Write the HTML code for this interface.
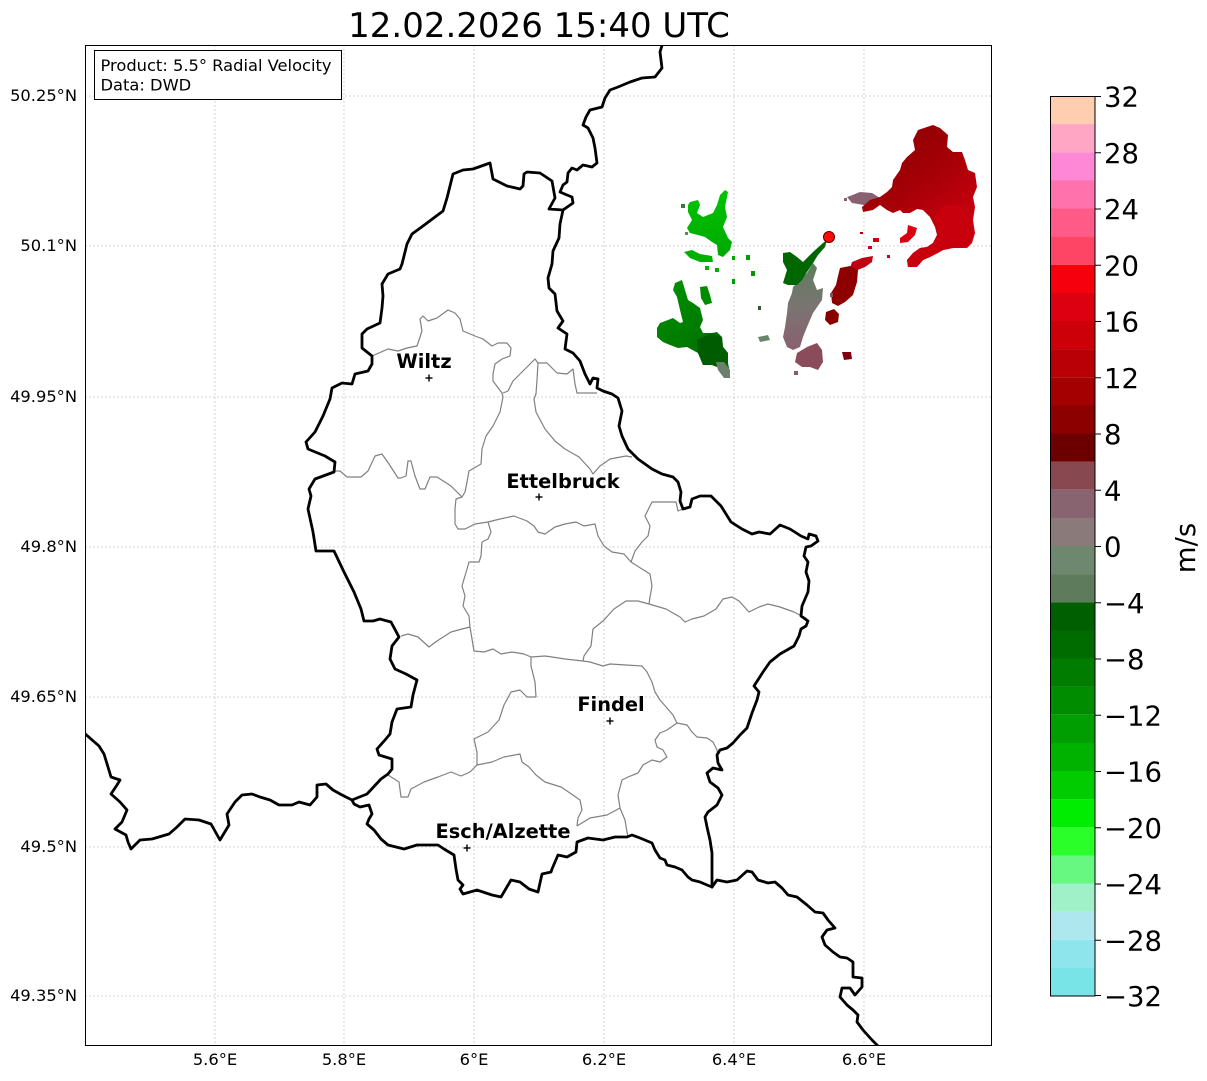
<!DOCTYPE html>
<html><head><meta charset="utf-8"><style>
html,body{margin:0;padding:0;background:#fff;}
svg{display:block;font-family:"DejaVu Sans","Liberation Sans",sans-serif;}
</style></head><body>
<svg width="1207" height="1081" viewBox="0 0 1207 1081" xmlns="http://www.w3.org/2000/svg">
<defs>
<clipPath id="ax"><rect x="85" y="45" width="907" height="1001"/></clipPath>
<linearGradient id="gRed" x1="0" y1="0" x2="0.6" y2="1">
<stop offset="0" stop-color="#880000"/><stop offset="0.45" stop-color="#a00006"/><stop offset="1" stop-color="#d00010"/></linearGradient>
<linearGradient id="gGreenUp" x1="0" y1="0" x2="0" y2="1">
<stop offset="0" stop-color="#00c400"/><stop offset="1" stop-color="#00a800"/></linearGradient>
<linearGradient id="gGreenLow" x1="0" y1="0" x2="0.5" y2="1">
<stop offset="0" stop-color="#009400"/><stop offset="1" stop-color="#006c00"/></linearGradient>
<linearGradient id="gStreak" x1="0" y1="0" x2="0" y2="1">
<stop offset="0" stop-color="#5e7e5c"/><stop offset="0.5" stop-color="#7a7472"/><stop offset="1" stop-color="#8a6070"/></linearGradient>
</defs>
<rect width="1207" height="1081" fill="#fff"/>

<!-- gridlines -->
<g stroke="#c8c8c8" stroke-width="0.8" stroke-dasharray="2,2" fill="none">
<line x1="215" y1="45" x2="215" y2="1046"/><line x1="344" y1="45" x2="344" y2="1046"/>
<line x1="474" y1="45" x2="474" y2="1046"/><line x1="604" y1="45" x2="604" y2="1046"/>
<line x1="734" y1="45" x2="734" y2="1046"/><line x1="864" y1="45" x2="864" y2="1046"/>
<line x1="85" y1="96" x2="992" y2="96"/><line x1="85" y1="246" x2="992" y2="246"/>
<line x1="85" y1="397" x2="992" y2="397"/><line x1="85" y1="547" x2="992" y2="547"/>
<line x1="85" y1="697" x2="992" y2="697"/><line x1="85" y1="847" x2="992" y2="847"/>
<line x1="85" y1="996" x2="992" y2="996"/>
</g>

<g clip-path="url(#ax)">
<!-- radar data -->
<polygon fill="#886070" points="847,197 850,196 860,192 872,193 880,198 876,204 864,205 852,203"/>
<polygon fill="url(#gRed)" points="918,130 933,125 940,128 948,135 947,147 953,152 962,152 965,160 968,170 975,173 977,187 973,197 975,207 973,220 975,233 972,243 967,248 953,248 943,250 938,253 930,257 923,260 917,267 908,267 907,260 913,253 920,248 927,247 933,243 937,235 935,227 930,217 923,210 917,209 910,213 903,213 900,210 893,213 887,210 880,205 873,210 863,212 862,207 870,200 880,197 887,192 892,187 893,180 900,170 902,163 907,157 915,150 913,140"/>
<polygon fill="#c8000e" points="937,227 935,215 945,205 960,205 972,215 973,235 968,247 953,248 943,250 930,257 923,260 917,267 908,267 907,260 913,253 920,248 927,247 933,243 937,235"/>
<polygon fill="#dd0010" points="908,225 917,228 915,235 908,242 900,243 900,238 907,233"/>
<rect x="873" y="238" width="6" height="4" fill="#cc0010"/>
<rect x="868" y="246" width="4" height="3" fill="#cc0010"/>
<rect x="887" y="255" width="3" height="3" fill="#cc0010"/>
<rect x="860" y="232" width="3" height="2" fill="#aa0010"/>
<rect x="844" y="198" width="3" height="3" fill="#886070"/>
<polygon fill="#c00010" points="852,262 862,258 873,256 872,262 865,267 855,271 850,268"/>
<polygon fill="#8e0000" points="840,268 850,266 858,270 857,282 853,295 845,302 838,306 832,303 831,293 836,285 838,276"/>
<polygon fill="#880000" points="826,312 834,309 839,314 838,322 830,325 825,320"/>
<polygon fill="#800010" points="842,352 851,352 852,359 844,360"/>
<rect x="834" y="316" width="3" height="3" fill="#900000"/>
<rect x="830" y="293" width="3" height="4" fill="#8a5060"/>

<polygon fill="url(#gGreenUp)" points="690,202 698,200 700,205 697,213 703,217 713,213 717,205 720,195 725,190 728,192 725,207 727,217 723,227 728,238 732,242 730,250 723,257 718,255 717,245 712,242 705,237 698,235 690,233 687,228 692,220 688,212 688,205"/>
<polygon fill="#00b000" points="684,252 692,250 700,254 712,256 713,262 700,262 690,258"/>
<rect x="705" y="266" width="4" height="4" fill="#00b400"/>
<rect x="715" y="268" width="4" height="4" fill="#00b000"/>
<rect x="732" y="256" width="3" height="4" fill="#00a800"/>
<rect x="746" y="255" width="4" height="5" fill="#00a000"/>
<rect x="751" y="271" width="4" height="5" fill="#009800"/>
<rect x="732" y="279" width="3" height="5" fill="#009c00"/>
<rect x="681" y="204" width="4" height="4" fill="#3a7a3a"/>
<rect x="685" y="232" width="3" height="3" fill="#5a8a5a"/>
<polygon fill="url(#gGreenLow)" points="675,283 682,280 685,290 688,300 693,303 700,308 703,320 700,327 703,333 712,333 717,332 722,337 723,347 728,353 728,363 730,373 727,378 722,373 717,367 712,365 703,365 698,353 687,347 678,348 670,345 663,342 657,337 657,328 660,323 668,320 673,318 680,323 683,322 680,310 677,297 673,290"/>
<polygon fill="#008c00" points="700,287 707,286 710,295 712,303 705,305 701,298"/>
<polygon fill="#005c00" points="697,340 712,333 722,337 723,347 728,353 728,363 720,368 712,365 703,365 698,353"/>
<polygon fill="#6a806a" points="716,362 724,362 730,370 730,378 724,378 718,370"/>

<polygon fill="url(#gStreak)" points="797,283 807,273 813,263 817,268 813,280 817,290 823,288 822,300 813,313 807,327 803,337 800,347 793,350 787,347 783,337 785,327 787,313 788,303 792,293 793,287"/>
<polygon fill="#006600" points="783,253 790,252 797,257 803,262 813,252 823,243 827,240 825,247 818,255 813,263 807,272 802,280 797,285 788,285 783,283 787,270 783,262"/>
<polygon fill="#8a4c5a" points="807,347 817,343 822,350 823,362 818,370 810,367 802,367 795,362 797,353"/>
<rect x="794" y="371" width="4" height="4" fill="#8a5a66"/>
<polygon fill="#6a846a" points="758,337 768,335 770,340 760,342"/>
<rect x="758" y="306" width="3" height="4" fill="#335533"/>

<!-- canton borders -->
<g fill="none" stroke="#808080" stroke-width="1.2" stroke-linejoin="round">
<polyline points="372,356 388,349 398,351 407,348 417,346 422,331 420,319 423,316 428,321 437,318 448,310 455,313 460,319 463,331 475,336 483,339 492,346 498,343 507,343 511,348 510,356 502,359 495,364 493,374 493,381 499,389 502,393 503,397 501,407 500,412 493,426 486,436 482,449 481,464 469,471 467,482 465,492 462,497 456,499 455,509 455,524 458,529 465,529 475,524 488,522 491,532 488,539 482,542 481,556 479,562 469,562 467,569 462,586 465,596 463,606 469,616 470,627 472,639 474,651 484,652 493,649 501,654 512,652 524,654 531,657 545,656 552,657 565,659 583,661 584,656 591,646 593,629 603,621 614,609 626,601 638,601 649,604 666,609 680,617 685,622 692,619 704,616 716,609 723,599 732,597 739,601 749,612 759,607 768,604 780,607 794,612 806,618"/>
<polyline points="334,471 340,471 347,477 361,477 368,471 375,456 382,454 389,464 398,478 401,478 406,476 408,461 411,461 415,476 420,489 425,489 430,477 437,477 451,486 462,497"/>
<polyline points="488,522 500,519 514,516 527,521 534,526 538,532 545,534 555,527 565,524 576,522 584,526 595,524 598,536 604,546 612,552 624,554 631,562 642,569 650,574 652,586 650,597 649,604"/>
<polyline points="631,562 635,551 642,542 648,536 650,526 645,516 652,502 669,502 676,502 678,511 683,509"/>
<polyline points="503,393 508,391 513,381 530,364 535,359 538,363 537,380 536,394 534,399 536,412 545,429 555,441 565,449 579,457 590,469 593,474 600,466 610,459 626,456 632,457"/>
<polyline points="538,363 547,363 557,373 567,374 573,369 575,384 577,393 597,393"/>
<polyline points="401,636 408,634 418,637 429,647 437,641 451,632 462,629 470,627"/>
<polyline points="531,657 531,666 535,682 536,697 527,697 520,690 511,692 504,705 499,720 488,732 474,739 477,752 477,765"/>
<polyline points="388,775 399,782 401,797 408,797 411,789 424,782 438,777 451,772 461,776 470,772 477,765 492,762 504,757 520,754 522,762 529,767 536,775 545,782 561,787 570,793 580,800 582,810 578,818 577,826"/>
<polyline points="577,826 590,818 607,815 620,808 625,820 627,832 628,837"/>
<polyline points="620,808 618,795 622,780 628,777 638,773 643,765 652,760 660,762 667,757 663,750 657,747 655,740 660,733 667,730 677,723 687,725 692,732 697,737 707,738 713,742 717,750 718,757"/>
<polyline points="583,661 590,662 603,666 610,664 642,666 647,672 652,682 655,692 660,700 667,708 673,715 677,723"/>
</g>

<!-- country borders -->
<g fill="none" stroke="#000" stroke-width="2.8" stroke-linejoin="round" stroke-linecap="round">
<polyline points="83,732 99,746 104,754 108,767 111,777 120,780 117,785 111,794 120,802 127,810 122,822 115,829 126,835 128,842 131,849 140,840 152,839 169,834 177,827 185,819 199,820 211,824 220,840 229,825 227,814 235,802 242,795 252,794 260,797 270,800 279,805 292,805 299,802 310,805 317,797 317,785 326,784 333,790 342,795 352,800"/>
<polyline points="352,800 354,804 360,807 369,805 372,814 369,819 367,824 374,830 381,839 388,845 404,849 417,845 427,845 438,845 444,849 454,855 456,869 458,880 463,885 460,889 463,894 477,890 492,895 501,897 511,880 520,882 529,889 538,892 542,874 551,872 552,869 558,855 567,857 576,852 577,842 588,838 603,840 615,837 627,837 632,835 640,838 652,843 655,850 660,858 665,860 667,865 675,867 682,870 688,877 692,880 700,882 707,885 712,887"/>
<polyline points="712,887 717,880 727,882 737,880 747,871 752,872 758,880 768,883 775,882 782,888 788,895 797,897 807,905 815,912 823,913 828,920 835,928 827,930 822,937 825,945 833,952 840,957 847,958 853,962 853,977 862,978 862,987 855,995 850,988 842,988 840,997 847,1005 853,1010 858,1015 857,1022 863,1030 872,1040 882,1050"/>
<polyline points="712,887 712,877 712,853 710,840 707,827 705,817 708,812 717,805 722,795 718,788 710,782 707,773 713,768 722,770 718,763 717,755 720,750 727,748 733,743 740,735 747,728 752,713 757,700 759,692 754,686 763,672 770,662 780,654 794,646 799,636 801,629 806,626 808,621 801,616 802,606 808,592 809,581 806,572 808,562 804,556 806,547 811,546 818,541 816,536 809,534 808,539 801,536 790,529 780,525 770,534 759,532 752,534 742,529 731,522 721,506 711,496 700,496 692,499 690,507 683,509 680,501 681,492 678,482 673,477 662,474 652,469 638,459 628,449 622,436 619,426 622,411 618,398 612,394 603,391 597,388 598,379 593,378 590,384 585,374 580,361 573,353 565,349 567,334 558,328 563,321 557,311 555,294 549,288 548,278 552,264 553,251 559,238 560,224 563,210"/>
<polyline points="563,210 573,203 572,197 567,195 560,192 563,185 567,182 568,173 572,168 577,170 583,165 592,167 597,163 595,148 593,138 588,128 583,125 586,117 590,110 602,107 605,98 610,90 618,87 630,82 642,78 655,77 662,68 660,52 663,42"/>
<polyline points="563,210 549,209 555,198 552,181 540,173 527,172 524,174 523,186 520,189 507,186 493,179 490,163 473,169 463,170 453,174 447,198 443,211 423,226 412,234 407,244 402,264 400,269 388,274 382,284 383,296 382,308 380,323 367,329 362,334 362,348 372,356 372,364 368,371 355,374 352,384 342,383 332,388 330,399 323,416 315,432 306,442 308,449 325,456 335,462 334,472 315,479 309,489 311,496 308,509 313,532 316,551 334,551 344,572 354,592 361,609 364,621 373,621 380,619 391,622 399,637 392,646 390,659 395,669 406,674 417,680 413,695 411,707 397,709 392,722 390,734 385,740 377,749 379,755 392,759 392,769 388,774 381,779 367,794 352,800"/>
</g>

<!-- radar site -->
<circle cx="829" cy="237" r="5.5" fill="#ff0a0a" stroke="#550000" stroke-width="1"/>

<!-- cities -->
<g stroke="#000" stroke-width="1.4">
<line x1="425.5" y1="378" x2="432.5" y2="378"/><line x1="429" y1="374.5" x2="429" y2="381.5"/>
<line x1="535.5" y1="497" x2="542.5" y2="497"/><line x1="539" y1="493.5" x2="539" y2="500.5"/>
<line x1="606.5" y1="721" x2="613.5" y2="721"/><line x1="610" y1="717.5" x2="610" y2="724.5"/>
<line x1="463.5" y1="848" x2="470.5" y2="848"/><line x1="467" y1="844.5" x2="467" y2="851.5"/>
</g>
<g font-size="19.4" font-weight="bold" text-anchor="middle" fill="#000">
<text x="424" y="368">Wiltz</text>
<text x="563" y="488">Ettelbruck</text>
<text x="611" y="711">Findel</text>
<text x="503" y="838">Esch/Alzette</text>
</g>
</g>

<!-- info box -->
<rect x="94.5" y="50.5" width="247" height="49" fill="#fff" stroke="#000" stroke-width="1"/>
<g font-size="16.3" fill="#000">
<text x="100.5" y="71">Product: 5.5° Radial Velocity</text>
<text x="100.5" y="90.5">Data: DWD</text>
</g>

<!-- axes frame -->
<rect x="85.5" y="45.5" width="906" height="1000" fill="none" stroke="#000" stroke-width="1"/>

<!-- tick labels -->
<g font-size="16.3" fill="#000" text-anchor="end">
<text x="77" y="101">50.25°N</text>
<text x="77" y="251">50.1°N</text>
<text x="77" y="402">49.95°N</text>
<text x="77" y="552">49.8°N</text>
<text x="77" y="702">49.65°N</text>
<text x="77" y="852">49.5°N</text>
<text x="77" y="1001">49.35°N</text>
</g>
<g font-size="16.3" fill="#000" text-anchor="middle">
<text x="215" y="1065">5.6°E</text>
<text x="344" y="1065">5.8°E</text>
<text x="474" y="1065">6°E</text>
<text x="604" y="1065">6.2°E</text>
<text x="734" y="1065">6.4°E</text>
<text x="864" y="1065">6.6°E</text>
</g>

<!-- title -->
<text x="539" y="37" font-size="34" text-anchor="middle" fill="#000">12.02.2026 15:40 UTC</text>

<!-- colorbar -->
<g>
<rect x="1050" y="96" width="45" height="28.2" fill="#ffcdb0"/>
<rect x="1050" y="124.1" width="45" height="28.2" fill="#ffa6c4"/>
<rect x="1050" y="152.3" width="45" height="28.2" fill="#ff88d6"/>
<rect x="1050" y="180.4" width="45" height="28.2" fill="#ff72ac"/>
<rect x="1050" y="208.5" width="45" height="28.2" fill="#ff5a88"/>
<rect x="1050" y="236.6" width="45" height="28.2" fill="#ff4566"/>
<rect x="1050" y="264.8" width="45" height="28.2" fill="#f5000c"/>
<rect x="1050" y="292.9" width="45" height="28.2" fill="#dc0010"/>
<rect x="1050" y="321" width="45" height="28.2" fill="#cc0008"/>
<rect x="1050" y="349.1" width="45" height="28.2" fill="#b80006"/>
<rect x="1050" y="377.3" width="45" height="28.2" fill="#a40002"/>
<rect x="1050" y="405.4" width="45" height="28.2" fill="#8c0000"/>
<rect x="1050" y="433.5" width="45" height="28.2" fill="#6c0000"/>
<rect x="1050" y="461.6" width="45" height="28.2" fill="#884850"/>
<rect x="1050" y="489.8" width="45" height="28.2" fill="#886470"/>
<rect x="1050" y="517.9" width="45" height="28.2" fill="#8a7a7a"/>
<rect x="1050" y="546" width="45" height="28.2" fill="#6e8870"/>
<rect x="1050" y="574.1" width="45" height="28.2" fill="#5e7c5c"/>
<rect x="1050" y="602.3" width="45" height="28.2" fill="#005f00"/>
<rect x="1050" y="630.4" width="45" height="28.2" fill="#006c00"/>
<rect x="1050" y="658.5" width="45" height="28.2" fill="#007c00"/>
<rect x="1050" y="686.6" width="45" height="28.2" fill="#008c00"/>
<rect x="1050" y="714.8" width="45" height="28.2" fill="#009e00"/>
<rect x="1050" y="742.9" width="45" height="28.2" fill="#00b200"/>
<rect x="1050" y="771" width="45" height="28.2" fill="#00cc00"/>
<rect x="1050" y="799.1" width="45" height="28.2" fill="#00ec00"/>
<rect x="1050" y="827.3" width="45" height="28.2" fill="#2aff2a"/>
<rect x="1050" y="855.4" width="45" height="28.2" fill="#66f880"/>
<rect x="1050" y="883.5" width="45" height="28.2" fill="#a0f0c8"/>
<rect x="1050" y="911.6" width="45" height="28.2" fill="#aee8ee"/>
<rect x="1050" y="939.8" width="45" height="28.2" fill="#8ee6ec"/>
<rect x="1050" y="967.9" width="45" height="28.1" fill="#78e4e8"/>
<rect x="1050.5" y="96.5" width="44.5" height="899.5" fill="none" stroke="#000" stroke-width="1"/>
</g>
<g stroke="#000" stroke-width="1">
<line x1="1095" y1="96.5" x2="1101" y2="96.5"/>
<line x1="1095" y1="152.75" x2="1101" y2="152.75"/>
<line x1="1095" y1="209" x2="1101" y2="209"/>
<line x1="1095" y1="265.25" x2="1101" y2="265.25"/>
<line x1="1095" y1="321.5" x2="1101" y2="321.5"/>
<line x1="1095" y1="377.75" x2="1101" y2="377.75"/>
<line x1="1095" y1="434" x2="1101" y2="434"/>
<line x1="1095" y1="490.25" x2="1101" y2="490.25"/>
<line x1="1095" y1="546.5" x2="1101" y2="546.5"/>
<line x1="1095" y1="602.75" x2="1101" y2="602.75"/>
<line x1="1095" y1="659" x2="1101" y2="659"/>
<line x1="1095" y1="715.25" x2="1101" y2="715.25"/>
<line x1="1095" y1="771.5" x2="1101" y2="771.5"/>
<line x1="1095" y1="827.75" x2="1101" y2="827.75"/>
<line x1="1095" y1="884" x2="1101" y2="884"/>
<line x1="1095" y1="940.25" x2="1101" y2="940.25"/>
<line x1="1095" y1="995.5" x2="1101" y2="995.5"/>
</g>
<g font-size="27.5" fill="#000">
<text x="1104" y="106.5">32</text>
<text x="1104" y="162.75">28</text>
<text x="1104" y="219">24</text>
<text x="1104" y="275.25">20</text>
<text x="1104" y="331.5">16</text>
<text x="1104" y="387.75">12</text>
<text x="1104" y="444">8</text>
<text x="1104" y="500.25">4</text>
<text x="1104" y="556.5">0</text>
<text x="1104" y="612.75">−4</text>
<text x="1104" y="669">−8</text>
<text x="1104" y="725.25">−12</text>
<text x="1104" y="781.5">−16</text>
<text x="1104" y="837.75">−20</text>
<text x="1104" y="894">−24</text>
<text x="1104" y="950.25">−28</text>
<text x="1104" y="1006">−32</text>
</g>
<text x="0" y="0" font-size="27.5" fill="#000" text-anchor="middle" transform="translate(1195,548) rotate(-90)">m/s</text>
</svg>
</body></html>
